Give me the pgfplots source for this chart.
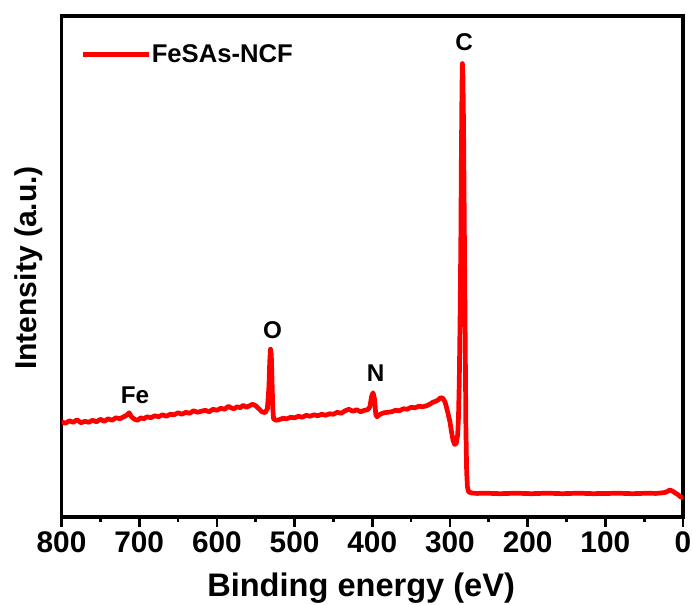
\documentclass[border=0pt]{standalone}
\usepackage{fontspec}
\setmainfont{Liberation Sans}
\usepackage{pgfplots}
\usepackage{pgfplotstable}
\pgfplotsset{compat=1.18}
\pgfplotstableread{
E I
800 19.0
795 18.7
790 19.2
785 18.9
780 19.4
775 18.8
770 19.1
765 18.9
760 19.3
755 19.0
750 19.5
745 19.1
740 19.6
735 19.3
730 19.8
725 19.6
720 20.0
716 20.3
713 20.8
710 20.0
706 19.5
702 19.3
698 19.8
694 19.6
690 20.0
685 19.8
680 20.2
675 20.0
670 20.4
665 20.1
660 20.5
655 20.4
650 20.8
645 20.5
640 20.9
635 20.7
630 21.2
625 20.9
620 21.1
615 21.3
610 21.0
605 21.5
600 21.3
595 21.7
590 21.5
585 22.1
582 21.8
578 21.6
574 22.0
570 21.8
566 22.3
562 21.9
558 22.2
554 22.5
550 22.2
546 21.6
542 21.0
538 20.8
535 21.6
533 26
532 31
531 33.5
530 32.5
529 27
528 21.5
527 19.6
524 19.3
520 19.4
515 19.7
510 19.6
505 19.9
500 19.8
495 20.1
490 19.9
485 20.3
480 20.1
475 20.4
470 20.2
465 20.5
460 20.3
455 20.6
450 20.5
445 20.9
440 20.7
435 21.2
430 21.5
425 21.1
420 21.4
415 21.0
410 21.3
406 21.4
403 22.0
401 24.0
399 24.8
397 23.5
395.5 20.5
394 20.0
390 20.5
385 20.8
380 20.9
375 21.0
370 21.3
365 21.2
360 21.6
355 21.5
350 21.9
345 21.8
340 22.1
335 22.0
330 22.2
325 22.6
322 22.9
318 23.1
315 23.4
312 23.8
309 23.7
306 22.8
303 21.0
300 19.0
298 17.0
296 15.3
294 14.5
292 14.6
290 16.5
289 20
288 27
287 39
286 55
285.3 72
284.5 86
284 90.5
283.3 88
282.5 78
281.5 58
280.5 38
279.5 18
278.5 9
277.5 6
276 5.0
272 4.8
265 4.7
255 4.75
245 4.7
235 4.65
225 4.7
215 4.75
205 4.7
195 4.65
185 4.7
175 4.75
165 4.7
155 4.65
145 4.7
135 4.75
125 4.7
115 4.65
105 4.7
95 4.7
85 4.75
75 4.7
65 4.65
55 4.7
45 4.75
35 4.7
28 4.8
23 4.9
20 5.1
17 5.4
14 5.2
10 4.8
6 4.4
3 4.0
0 3.8
}\xps

\begin{document}
\begin{tikzpicture}
\begin{axis}[
  at={(0,0)}, anchor=south west,
  scale only axis, width=448.4pt, height=361.5pt,
  xmin=0, xmax=800, x dir=reverse, ymin=0, ymax=100,
  xtick={0,100,...,800}, minor x tick num=1, ytick=\empty,
  xtick pos=bottom, tick align=outside,
  major tick length=7.2pt, minor tick length=3.6pt,
  every tick/.style={line width=2pt, black},
  axis line style={line width=2.8pt, black},
  /pgf/number format/assume math mode=true,
  tick label style={font=\fontsize{21.5}{22}\selectfont\bfseries},
  xlabel={Binding energy (eV)},
  ylabel={Intensity (a.u.)},
  x label style={at={(axis description cs:0.482,-0.1596)}, anchor=base, font=\fontsize{23.5}{24}\selectfont\bfseries},
  y label style={at={(axis description cs:-0.041,0.497)}, anchor=base, font=\fontsize{21.7}{22}\selectfont\bfseries},
  legend image code/.code={\path (0pt,0pt) -- (47.6pt,0pt); \draw[#1, line cap=round] (1.6pt,0pt) -- (42.4pt,0pt);},
  legend style={at={(axis description cs:0.031,0.923)}, anchor=west, draw=none, fill=none, inner sep=0pt, nodes={inner sep=0pt}, font=\fontsize{18.5}{19}\selectfont\bfseries},
]
\addplot[red, line width=3.4pt, line join=round] table {\xps};
\addlegendentry{FeSAs-NCF}
\node[font=\fontsize{17.5}{18}\selectfont\bfseries] at (axis cs:281.9,94.8) {C};
\node[font=\fontsize{17.5}{18}\selectfont\bfseries] at (axis cs:528.4,37.3) {O};
\node[font=\fontsize{17.5}{18}\selectfont\bfseries] at (axis cs:395.6,28.8) {N};
\node[font=\fontsize{17.5}{18}\selectfont\bfseries] at (axis cs:705.4,24.2) {Fe};
\end{axis}
\pgfresetboundingbox
\path[use as bounding box] (-44.4pt,-63.5pt) rectangle (455.6pt,373pt);
\end{tikzpicture}
\end{document}
